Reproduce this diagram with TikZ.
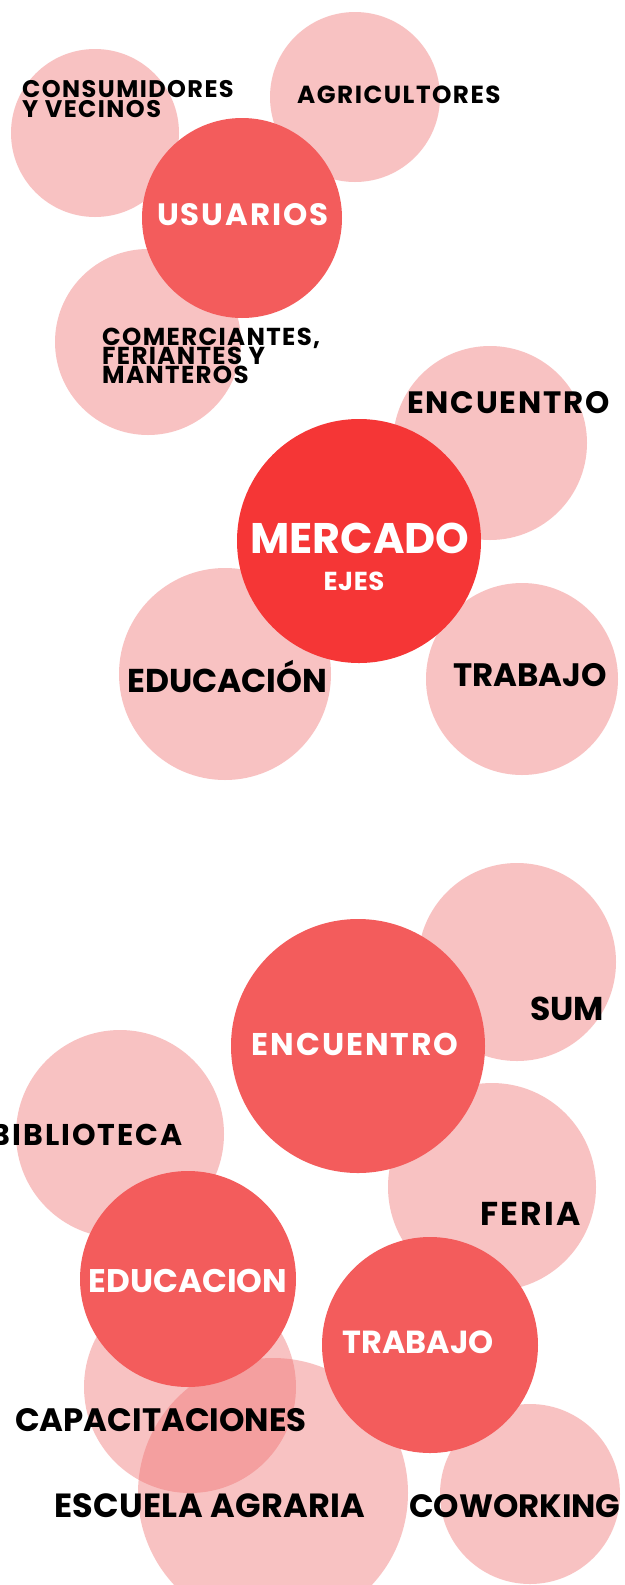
\documentclass[tikz,border=0pt]{standalone}
\usepackage{fontspec}
\setmainfont{Poppins}
\usetikzlibrary{positioning}

\definecolor{bubblepink}{RGB}{240,112,112}
\definecolor{bubblered}{RGB}{243,92,92}
\definecolor{bubblemain}{RGB}{245,54,54}

\begin{document}
\begin{tikzpicture}[
    x=1pt, y=-1pt,
    side/.style={circle, fill=bubblepink, fill opacity=0.42, inner sep=0pt, minimum size=#1},
    core/.style={circle, fill=bubblered, inner sep=0pt, minimum size=#1},
    darktext/.style 2 args={font=\bfseries\fontsize{#1}{#1}\selectfont\addfontfeature{LetterSpace=#2}, text=black, anchor=base west, inner sep=0pt},
    lighttext/.style 2 args={font=\bfseries\fontsize{#1}{#1}\selectfont\addfontfeature{LetterSpace=#2}, text=white, anchor=base, inner sep=0pt}
]
    \clip (0,0) rectangle (624,1585);
    \fill[white] (0,0) rectangle (624,1585);

    % Usuarios group
    \node[side=168pt] (consumidores) at (95,133) {};
    \node[side=170pt] (agricultores) at (355,97) {};
    \node[side=186pt] (comerciantes) at (148,342) {};
    \node[core=200pt] (usuarios) at (242,218) {};

    \node[darktext={24}{6}] (cons1) at (22,97) {CONSUMIDORES};
    \node[darktext={24}{6}] (cons2) at (22,117) {Y VECINOS};
    \node[darktext={24.7}{6}] (agri) at (297,103) {AGRICULTORES};
    \node[darktext={24.5}{5.5}] (com1) at (102,345) {COMERCIANTES,};
    \node[darktext={24.5}{5.5}] (com2) at (102,364) {FERIANTES Y};
    \node[darktext={24.5}{5.5}] (com3) at (102,383) {MANTEROS};
    \node[lighttext={30.9}{6.5}] (usu) at (243,225) {USUARIOS};

    % Mercado and its axes
    \node[side=194pt] (encuentroside) at (490,443) {};
    \node[side=212pt] (educacionside) at (225,674) {};
    \node[side=192pt] (trabajoside) at (522,679) {};
    \node[core=244pt, fill=bubblemain] (mercado) at (359,541) {};

    \node[darktext={30.9}{6}] (enc) at (407,413) {ENCUENTRO};
    \node[darktext={33}{0}] (edu) at (127,692) {EDUCACIÓN};
    \node[darktext={32.4}{0}] (trab) at (453,686) {TRABAJO};
    \node[lighttext={42.8}{0}] (merc) at (360,553) {MERCADO};
    \node[lighttext={26}{2}] (ejes) at (354,590) {EJES};

    % Axes and their spaces
    \node[side=198pt] (sum) at (517,962) {};
    \node[side=208pt] (biblioteca) at (120,1134) {};
    \node[side=208pt] (feria) at (492,1187) {};
    \node[side=212pt] (capacitaciones) at (190,1387) {};
    \node[side=270pt] (escuela) at (273,1493) {};
    \node[side=180pt] (coworking) at (530,1494) {};
    \node[core=254pt] (encuentro) at (358,1046) {};
    \node[core=216pt] (educacion) at (188,1279) {};
    \node[core=216pt] (trabajo) at (430,1345) {};

    \node[darktext={33}{0}] (sumtext) at (530,1020) {SUM};
    \node[darktext={30}{6.7}, anchor=base east] (bib) at (183,1145) {BIBLIOTECA};
    \node[darktext={33}{7}] (fer) at (480,1225) {FERIA};
    \node[darktext={32.4}{0}] (cap) at (15,1431) {CAPACITACIONES};
    \node[darktext={33.5}{1}] (esc) at (54,1517) {ESCUELA AGRARIA};
    \node[darktext={32.3}{0}] (cow) at (409,1517) {COWORKING};
    \node[lighttext={31.4}{6.4}] (enctext) at (355,1055) {ENCUENTRO};
    \node[lighttext={32.7}{0}] (edutext) at (188,1292) {EDUCACION};
    \node[lighttext={31.9}{0}] (trabtext) at (418,1353) {TRABAJO};
\end{tikzpicture}
\end{document}
